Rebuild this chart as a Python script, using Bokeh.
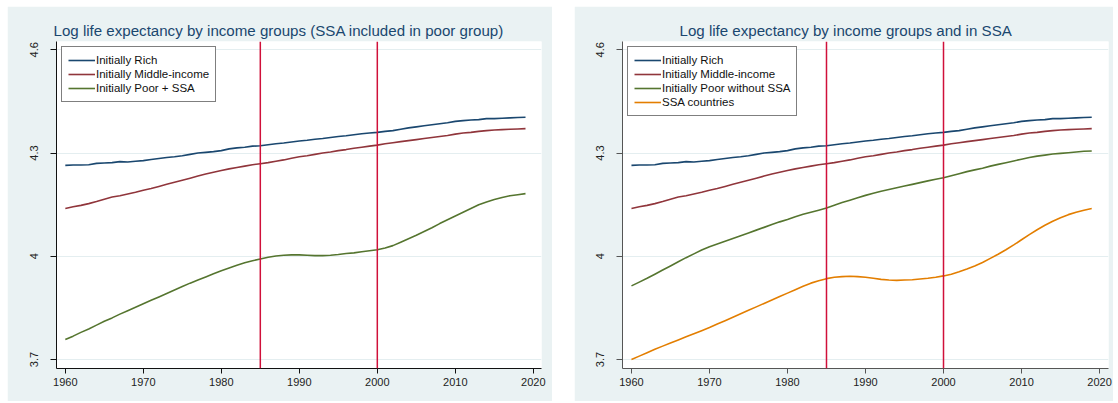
from bokeh.plotting import figure
from bokeh.layouts import row
from bokeh.models import FixedTicker, Span, Range1d, Legend, LegendItem
from bokeh.embed import file_html
from bokeh.resources import INLINE

years = list(range(1960, 2020))
rich = [4.264, 4.265, 4.265, 4.266, 4.270, 4.271, 4.272, 4.275, 4.274, 4.276,
        4.278, 4.281, 4.284, 4.287, 4.289, 4.292, 4.296, 4.300, 4.302, 4.304,
        4.307, 4.312, 4.315, 4.317, 4.320, 4.321, 4.324, 4.327, 4.329, 4.332,
        4.335, 4.337, 4.340, 4.342, 4.345, 4.348, 4.350, 4.353, 4.356, 4.358,
        4.360, 4.363, 4.365, 4.369, 4.373, 4.376, 4.379, 4.382, 4.385, 4.388,
        4.392, 4.394, 4.396, 4.397, 4.400, 4.400, 4.401, 4.402, 4.403, 4.404]
middle = [4.139, 4.144, 4.148, 4.153, 4.159, 4.166, 4.172, 4.176, 4.181, 4.186,
          4.192, 4.197, 4.203, 4.209, 4.215, 4.221, 4.227, 4.233, 4.239, 4.244,
          4.249, 4.254, 4.258, 4.262, 4.266, 4.269, 4.272, 4.276, 4.280, 4.285,
          4.289, 4.292, 4.296, 4.300, 4.303, 4.307, 4.310, 4.314, 4.317, 4.320,
          4.323, 4.327, 4.330, 4.333, 4.336, 4.339, 4.342, 4.345, 4.348, 4.351,
          4.355, 4.358, 4.360, 4.363, 4.365, 4.367, 4.368, 4.369, 4.370, 4.371]
poor_ssa = [3.758, 3.768, 3.779, 3.789, 3.800, 3.811, 3.821, 3.832, 3.842, 3.852,
            3.862, 3.872, 3.882, 3.892, 3.902, 3.912, 3.922, 3.931, 3.940, 3.949,
            3.958, 3.966, 3.974, 3.981, 3.987, 3.992, 3.997, 4.001, 4.003, 4.004,
            4.004, 4.003, 4.002, 4.002, 4.003, 4.005, 4.008, 4.010, 4.013, 4.016,
            4.019, 4.024, 4.031, 4.041, 4.051, 4.061, 4.072, 4.083, 4.095, 4.106,
            4.117, 4.128, 4.139, 4.150, 4.158, 4.165, 4.171, 4.176, 4.179, 4.182]
poor_no_ssa = [3.914, 3.925, 3.936, 3.948, 3.960, 3.972, 3.984, 3.996, 4.007, 4.018,
               4.028, 4.036, 4.044, 4.052, 4.060, 4.068, 4.076, 4.084, 4.092, 4.100,
               4.107, 4.115, 4.122, 4.128, 4.134, 4.140, 4.148, 4.156, 4.163, 4.170,
               4.177, 4.183, 4.189, 4.194, 4.199, 4.204, 4.209, 4.214, 4.219, 4.224,
               4.228, 4.234, 4.240, 4.246, 4.251, 4.256, 4.262, 4.267, 4.272, 4.277,
               4.282, 4.287, 4.291, 4.294, 4.297, 4.299, 4.301, 4.303, 4.305, 4.306]
ssa = [3.700, 3.710, 3.720, 3.730, 3.739, 3.748, 3.757, 3.766, 3.775, 3.784,
       3.793, 3.803, 3.813, 3.823, 3.833, 3.843, 3.853, 3.863, 3.873, 3.883,
       3.893, 3.903, 3.913, 3.922, 3.929, 3.935, 3.939, 3.941, 3.942, 3.941,
       3.939, 3.936, 3.933, 3.931, 3.930, 3.931, 3.932, 3.934, 3.936, 3.939,
       3.943, 3.948, 3.955, 3.963, 3.972, 3.982, 3.994, 4.006, 4.019, 4.033,
       4.048, 4.063, 4.077, 4.090, 4.102, 4.112, 4.121, 4.128, 4.134, 4.139]

event_years = [1985, 2000]
x_ticks = [1960, 1970, 1980, 1990, 2000, 2010, 2020]
y_ticks = [3.7, 4.0, 4.3, 4.6]
y_tick_labels = ["3.7", "4", "4.3", "4.6"]

title_left = "Log life expectancy by income groups (SSA included in poor group)"
title_right = "Log life expectancy by income groups and in SSA"
labels_left = ["Initially Rich", "Initially Middle-income", "Initially Poor + SSA"]
labels_right = ["Initially Rich", "Initially Middle-income", "Initially Poor without SSA", "SSA countries"]

NAVY = "#1A476F"
MAROON = "#90353B"
GREEN = "#55752F"
ORANGE = "#E37E00"
RED = "#D0103A"
BG = "#EAF2F3"
FONT = "Liberation Sans"


def make_panel(title, series, labels, colors, width, border_left, border_right,
               x_start, x_end, title_offset, margin, axis_color):
    p = figure(width=width, height=395, output_backend="svg", toolbar_location=None,
               x_range=Range1d(x_start, x_end), y_range=Range1d(3.674, 4.624),
               min_border_left=border_left, min_border_right=border_right, min_border_top=35,
               min_border_bottom=33, margin=margin)
    p.background_fill_color = "white"
    p.border_fill_color = BG
    p.outline_line_color = None

    p.title.text = title
    p.title.align = "left"
    p.title.offset = title_offset
    p.title.standoff = 6
    p.title.text_font = FONT
    p.title.text_font_size = "15.1px"
    p.title.text_font_style = "normal"
    p.title.text_color = NAVY

    p.xaxis.ticker = FixedTicker(ticks=x_ticks)
    p.yaxis.ticker = FixedTicker(ticks=y_ticks)
    p.yaxis.major_label_overrides = {t: l for t, l in zip(y_ticks, y_tick_labels)}
    p.yaxis.major_label_orientation = "vertical"
    for ax in (p.xaxis, p.yaxis):
        ax.axis_line_color = axis_color
        ax.major_tick_line_color = axis_color
        ax.minor_tick_line_color = None
        ax.major_label_text_font = FONT
        ax.major_label_text_font_size = "11px"
        ax.major_label_text_color = "#222222"
    p.xaxis.major_tick_out = 5
    p.xaxis.major_tick_in = 0
    p.xaxis.major_label_standoff = 4
    p.yaxis.major_tick_out = 6
    p.yaxis.major_tick_in = 0
    p.yaxis.major_label_standoff = 12

    p.xgrid.grid_line_color = None
    p.ygrid.ticker = FixedTicker(ticks=y_ticks)
    p.ygrid.grid_line_color = "#E4EEF0"
    p.ygrid.grid_line_width = 1

    for yr in event_years:
        p.add_layout(Span(location=yr, dimension="height", line_color=RED, line_width=1.5))

    items = []
    for vals, lab, col in zip(series, labels, colors):
        r = p.line(years, vals, line_color=col, line_width=1.6)
        items.append(LegendItem(label=lab, renderers=[r]))

    leg = Legend(items=items, location="top_left")
    leg.margin = 5
    leg.padding = 6
    leg.spacing = 0
    leg.glyph_width = 27
    leg.glyph_height = 14
    leg.label_height = 14
    leg.label_standoff = 1
    leg.label_text_font = FONT
    leg.label_text_font_size = "11.5px"
    leg.label_text_color = "#111111"
    leg.border_line_color = "black"
    leg.border_line_width = 1
    leg.background_fill_color = "white"
    leg.background_fill_alpha = 1
    p.add_layout(leg, "center")
    return p


left = make_panel(title_left, [rich, middle, poor_ssa], labels_left,
                  [NAVY, MAROON, GREEN], 545, 49, 11, 1958.87, 2021.05,
                  -3, (6, 0, 0, 7), "#111111")
right = make_panel(title_right, [rich, middle, poor_no_ssa, ssa], labels_right,
                   [NAVY, MAROON, GREEN, ORANGE], 539, 48, 5, 1958.85, 2021.15,
                   57, (6, 0, 0, 22), "#555555")

layout = row(left, right)
layout.spacing = 0
layout.margin = 0

open("out.html", "w").write(file_html(layout, INLINE))
